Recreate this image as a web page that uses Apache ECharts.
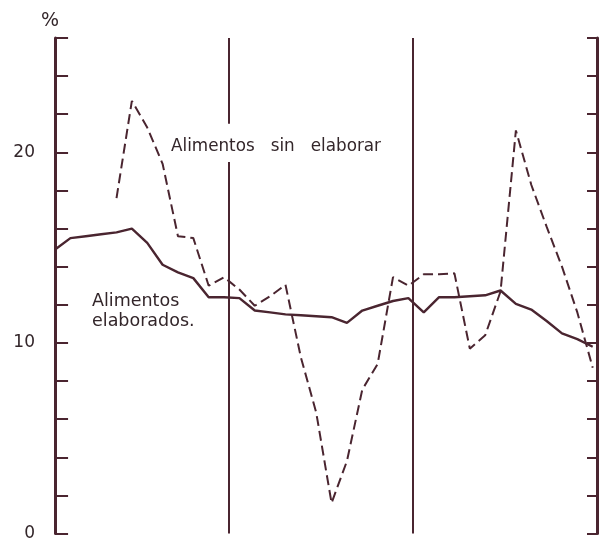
<!DOCTYPE html>
<html>
<head>
<meta charset="utf-8">
<script src="https://cdn.jsdelivr.net/npm/echarts@6/dist/echarts.min.js"></script>
<style>
html,body{margin:0;padding:0;background:#ffffff;}
#chart{width:604px;height:542px;}
</style>
</head>
<body>
<div id="chart"></div>
<script>
// Monthly values, 36 months (3 years)
var elaborados = [14.9, 15.5, 15.6, 15.7, 15.8, 16.0, 15.25, 14.1, 13.7, 13.4, 12.4, 12.4,
                  12.35, 11.7, 11.6, 11.5, 11.45, 11.4, 11.35, 11.05, 11.7, 11.95, 12.2, 12.35,
                  11.6, 12.4, 12.4, 12.45, 12.5, 12.75, 12.05, 11.75, 11.15, 10.5, 10.2, 9.8];
var sinElaborar = [null, null, null, null, 17.6, 22.7, 21.3, 19.4, 15.6, 15.5, 13.0, 13.45,
                   12.8, 11.95, 12.45, 13.05, 9.25, 6.35, 1.6, 3.8, 7.55, 8.9, 13.45, 13.0,
                   13.6, 13.6, 13.65, 9.7, 10.4, 12.7, 21.15, 18.3, 16.1, 14.0, 11.6, 8.7];
var yTickLabels = [0, 10, 20];
var dividers = [11.32, 23.3];
var labelGap = [19.5, 21.5];

var ink = '#4a2530';
var textInk = '#33262a';

var chart = echarts.init(document.getElementById('chart'), null, {renderer: 'canvas'});

function pairs(arr) {
  return arr.map(function (v, i) { return [i, v]; });
}

var yCommon = {
  type: 'value', min: 0, max: 26, interval: 2,
  axisLine: {show: true, lineStyle: {color: ink, width: 3}},
  axisTick: {show: true, inside: true, length: 13, lineStyle: {color: ink, width: 2}},
  splitLine: {show: false}
};

var option = {
  animation: false,
  backgroundColor: '#ffffff',
  grid: {left: 50, right: 7, top: 38, bottom: 8, containLabel: false},
  xAxis: {
    type: 'value', min: -0.33, max: 35.28,
    axisLine: {show: false}, axisTick: {show: false}, axisLabel: {show: false}, splitLine: {show: false}
  },
  yAxis: [
    Object.assign({}, yCommon, {
      position: 'left',
      axisLabel: {
        show: true, margin: 15, color: textInk, fontSize: 17, fontFamily: 'DejaVu Sans',
        formatter: function (v) { return yTickLabels.indexOf(v) >= 0 ? String(v) : ''; }
      }
    }),
    Object.assign({}, yCommon, {
      position: 'right',
      axisTick: {show: true, inside: true, length: 10, lineStyle: {color: ink, width: 2}},
      axisLabel: {show: false}
    })
  ],
  series: [
    {
      name: 'Alimentos elaborados',
      type: 'line',
      data: pairs(elaborados),
      symbol: 'none',
      lineStyle: {color: ink, width: 2.4},
      z: 3,
      markLine: {
        silent: true,
        symbol: ['none', 'none'],
        label: {show: false},
        lineStyle: {color: ink, width: 2, type: 'solid'},
        data: [
          [{coord: [dividers[0], 26]}, {coord: [dividers[0], labelGap[1]]}],
          [{coord: [dividers[0], labelGap[0]]}, {coord: [dividers[0], 0]}],
          [{coord: [dividers[1], 26]}, {coord: [dividers[1], 0]}]
        ]
      }
    },
    {
      name: 'Alimentos sin elaborar',
      type: 'line',
      data: pairs(sinElaborar),
      symbol: 'none',
      connectNulls: false,
      lineStyle: {color: ink, width: 2, type: [10, 5]},
      z: 2
    }
  ],
  graphic: [
    {type: 'text', x: 50, y: 21, style: {text: '%', fill: textInk, font: '19px "DejaVu Sans"', align: 'center', verticalAlign: 'middle'}},
    {type: 'text', x: 171, y: 147, style: {text: 'Alimentos   sin   elaborar', fill: textInk, font: '16.8px "DejaVu Sans"', align: 'left', verticalAlign: 'middle'}},
    {type: 'text', x: 92, y: 301, style: {text: 'Alimentos', fill: textInk, font: '17.5px "DejaVu Sans"', align: 'left', verticalAlign: 'middle'}},
    {type: 'text', x: 92, y: 321, style: {text: 'elaborados.', fill: textInk, font: '17.5px "DejaVu Sans"', align: 'left', verticalAlign: 'middle'}}
  ]
};

chart.setOption(option);
</script>
</body>
</html>
